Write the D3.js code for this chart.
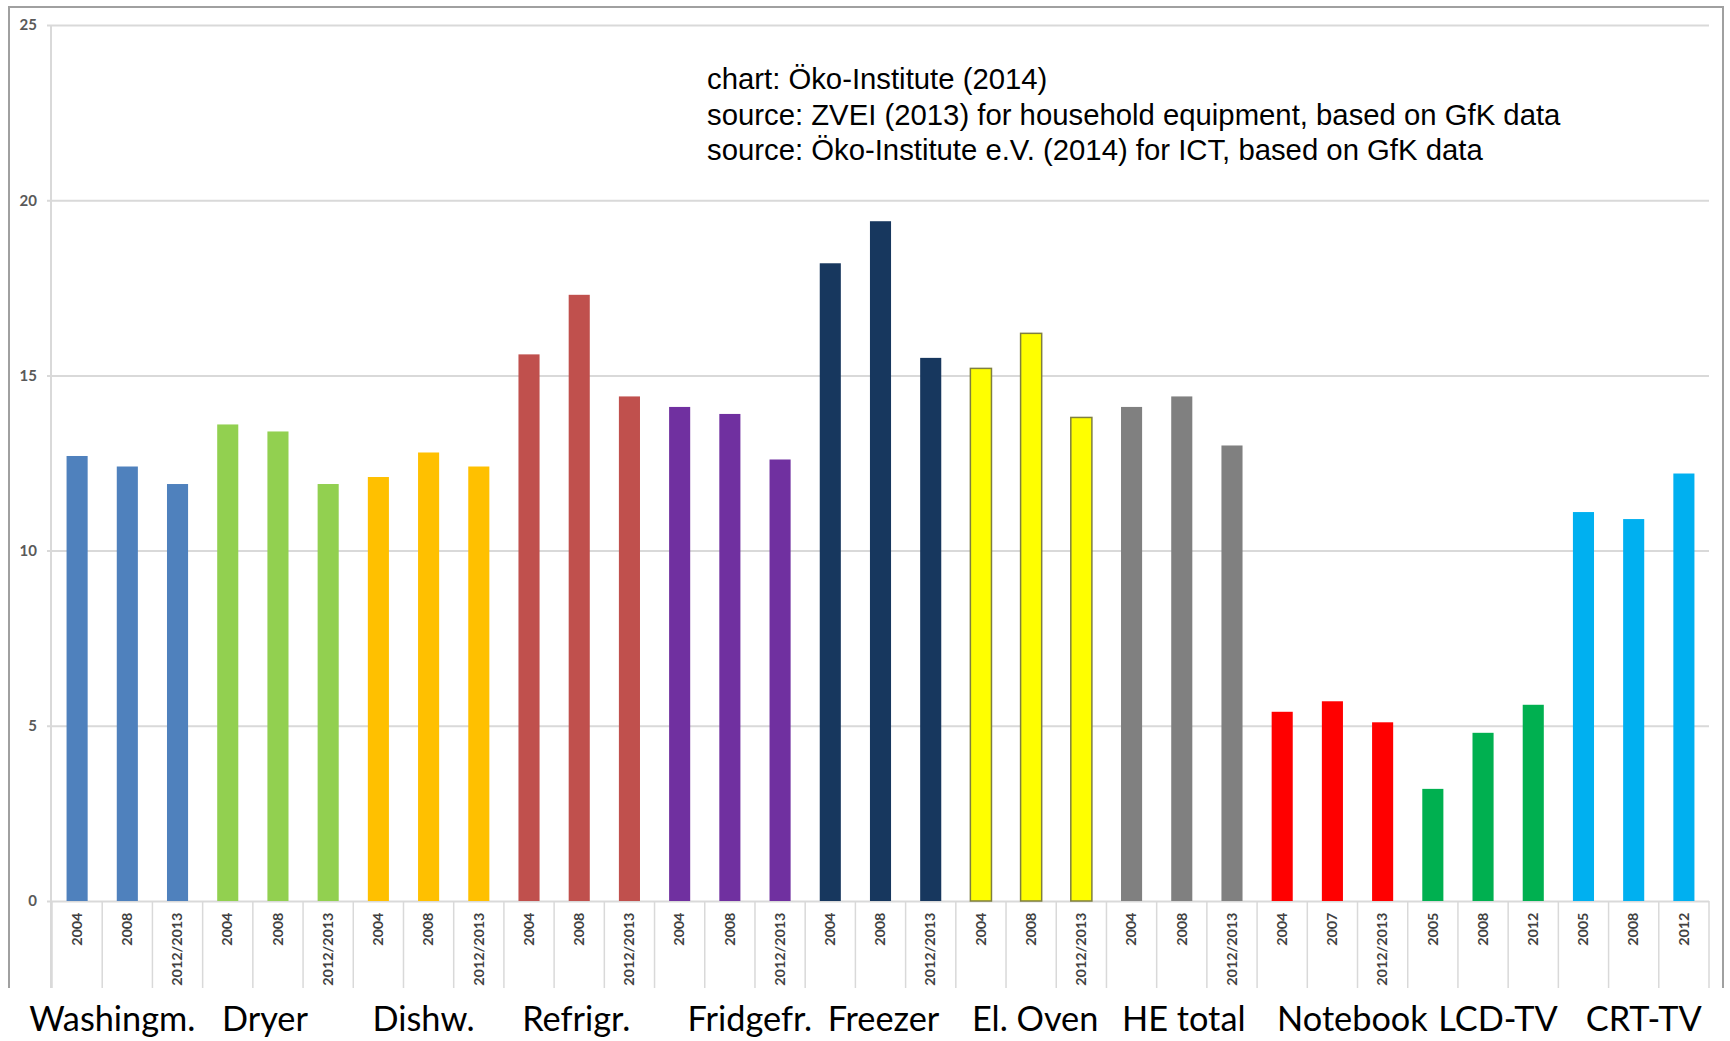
<!DOCTYPE html>
<html lang="en">
<head>
  <meta charset="UTF-8">
  <title>lifetime chart</title>
  <script src="https://d3js.org/d3.v7.min.js"></script>
  <style>
    body { margin: 0; background: #fff; }
    svg { display: block; }
  </style>
</head>
<body>
  <svg id="chart" width="1730" height="1041"></svg>
  <script>
    // data
    const categories = ["Washingm.", "Dryer", "Dishw.", "Refrigr.", "Fridgefr.", "Freezer",
      "El. Oven", "HE total", "Notebook", "LCD-TV", "CRT-TV"];
    const years = [
      ["2004", "2008", "2012/2013"], ["2004", "2008", "2012/2013"], ["2004", "2008", "2012/2013"],
      ["2004", "2008", "2012/2013"], ["2004", "2008", "2012/2013"], ["2004", "2008", "2012/2013"],
      ["2004", "2008", "2012/2013"], ["2004", "2008", "2012/2013"], ["2004", "2007", "2012/2013"],
      ["2005", "2008", "2012"], ["2005", "2008", "2012"]
    ];
    const values = [
      [12.7, 12.4, 11.9], [13.6, 13.4, 11.9], [12.1, 12.8, 12.4], [15.6, 17.3, 14.4],
      [14.1, 13.9, 12.6], [18.2, 19.4, 15.5], [15.2, 16.2, 13.8], [14.1, 14.4, 13.0],
      [5.4, 5.7, 5.1], [3.2, 4.8, 5.6], [11.1, 10.9, 12.2]
    ];
    const colors = ["#4f81bd", "#92d050", "#ffc000", "#c0504d", "#7030a0", "#17375e",
      "#ffff00", "#808080", "#ff0000", "#00b050", "#00b0f0"];
    const yTicks = [0, 5, 10, 15, 20, 25];
    const notes = [
      "chart: Öko-Institute (2014)",
      "source: ZVEI (2013) for household equipment, based on GfK data",
      "source: Öko-Institute e.V. (2014) for ICT, based on GfK data"
    ];

    const svg = d3.select("#chart");

    // flatten into one row per bar
    const bars = [];
    categories.forEach((c, i) => {
      years[i].forEach((yr, j) => {
        bars.push({ id: i + "-" + j, cat: i, year: yr, value: values[i][j], color: colors[i] });
      });
    });

    const plotLeft = 52, plotRight = 1709, plotTop = 25, plotBottom = 901, labelBottom = 988;

    const x = d3.scaleBand()
      .domain(bars.map(d => d.id))
      .range([plotLeft, plotRight])
      .paddingInner(0.58)
      .paddingOuter(0.29);
    const y = d3.scaleLinear().domain([0, 25]).range([plotBottom, plotTop]);
    const step = x.step();

    // outer frame (left, top, right)
    svg.append("path")
      .attr("d", `M9,${labelBottom} V7 H1723 V${labelBottom}`)
      .attr("fill", "none")
      .attr("stroke", "#a0a0a0")
      .attr("stroke-width", 2);

    // y axis with gridlines
    const yAxis = d3.axisLeft(y)
      .tickValues(yTicks)
      .tickSize(-(plotRight - 47))
      .tickPadding(10);
    const yg = svg.append("g")
      .attr("transform", "translate(47,0)")
      .call(yAxis);
    yg.select(".domain").remove();
    yg.selectAll(".tick line").attr("stroke", "#d9d9d9").attr("stroke-width", 2);
    yg.selectAll(".tick text")
      .attr("fill", "#595959")
      .style("font-family", "Lato, 'Open Sans', sans-serif")
      .style("font-size", "15px")
      .style("font-weight", "bold");

    // vertical axis line
    svg.append("line")
      .attr("x1", plotLeft - 1).attr("x2", plotLeft - 1)
      .attr("y1", plotTop).attr("y2", labelBottom)
      .attr("stroke", "#d9d9d9").attr("stroke-width", 2);

    // category cell dividers under the axis
    svg.append("g").selectAll("line")
      .data(d3.range(bars.length + 1))
      .join("line")
      .attr("x1", i => plotLeft + i * step).attr("x2", i => plotLeft + i * step)
      .attr("y1", plotBottom).attr("y2", labelBottom)
      .attr("stroke", "#d9d9d9").attr("stroke-width", 1.5);

    // bars
    svg.append("g").selectAll("rect")
      .data(bars)
      .join("rect")
      .attr("x", d => x(d.id))
      .attr("y", d => y(d.value))
      .attr("width", x.bandwidth())
      .attr("height", d => y(0) - y(d.value))
      .attr("fill", d => d.color)
      .attr("stroke", d => d.color === "#ffff00" ? "#7f7f40" : "none")
      .attr("stroke-width", 1.5);

    // year tick labels (rotated)
    const xAxis = d3.axisBottom(x).tickSize(0).tickFormat(id => bars.find(b => b.id === id).year);
    const xg = svg.append("g")
      .attr("transform", `translate(0,${plotBottom})`)
      .call(xAxis);
    xg.select(".domain").remove();
    xg.selectAll(".tick text")
      .attr("transform", "rotate(-90) scale(1.06,1)")
      .attr("x", -11)
      .attr("y", 0)
      .attr("dy", "0.35em")
      .attr("text-anchor", "end")
      .attr("fill", "#404040")
      .style("font-family", "Lato, 'Open Sans', sans-serif")
      .style("font-size", "13.5px")
      .style("font-weight", "bold");

    // group names below; the slide had them placed by hand, so nudge a little
    const labelNudge = [-15, -13, -5, -3, 20, 3, 4, 2, 20, 15, 10];
    svg.append("g").selectAll("text")
      .data(categories)
      .join("text")
      .attr("transform", (c, i) => {
        const cx = x(i + "-1") + x.bandwidth() / 2 + labelNudge[i];
        return `translate(${cx},1031) scale(0.98,1)`;
      })
      .attr("text-anchor", "middle")
      .attr("fill", "#000")
      .style("font-family", "Lato, 'Open Sans', sans-serif")
      .style("font-size", "35px")
      .text(c => c);

    // source notes
    svg.append("g").selectAll("text")
      .data(notes)
      .join("text")
      .attr("x", 707)
      .attr("y", (d, i) => 89 + i * 35.5)
      .attr("fill", "#000")
      .style("font-family", "'Liberation Sans', Arial, sans-serif")
      .style("font-size", "29.3px")
      .text(d => d);
  </script>
</body>
</html>
